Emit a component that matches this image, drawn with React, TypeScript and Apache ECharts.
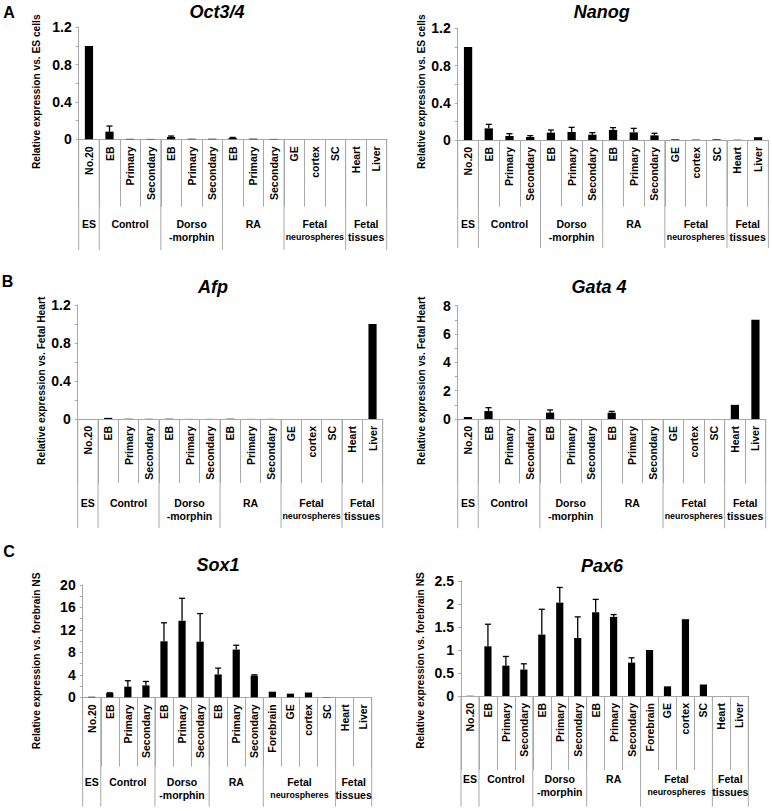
import React, { useEffect, useRef } from 'react';
import * as echarts from 'echarts';

// ---------- categories ----------
const catsAB = ['No.20', 'EB', 'Primary', 'Secondary', 'EB', 'Primary', 'Secondary', 'EB', 'Primary', 'Secondary', 'GE', 'cortex', 'SC', 'Heart', 'Liver'];
const catsC = ['No.20', 'EB', 'Primary', 'Secondary', 'EB', 'Primary', 'Secondary', 'EB', 'Primary', 'Secondary', 'Forebrain', 'GE', 'cortex', 'SC', 'Heart', 'Liver'];

// group labels and [first, last] category index of each group
const groupLabels = ['ES', 'Control', 'Dorso\n-morphin', 'RA', 'Fetal\n{n|neurospheres}', 'Fetal\ntissues'];
const groupsAB = [[0, 0], [1, 3], [4, 6], [7, 9], [10, 12], [13, 14]];
const groupsC = [[0, 0], [1, 3], [4, 6], [7, 9], [10, 13], [14, 15]];

// ---------- values (mean) and upper error ----------
const oct4Values = [1.0, 0.082, 0.005, 0.004, 0.025, 0.006, 0.006, 0.015, 0.007, 0.004, 0, 0, 0, 0, 0];
const oct4Errors = [0, 0.06, 0, 0, 0.01, 0, 0, 0.005, 0, 0, 0, 0, 0, 0, 0];

const nanogValues = [1.0, 0.125, 0.043, 0.032, 0.079, 0.086, 0.057, 0.108, 0.082, 0.05, 0.007, 0.004, 0.007, 0.003, 0.03];
const nanogErrors = [0, 0.043, 0.025, 0.015, 0.028, 0.05, 0.022, 0.025, 0.043, 0.022, 0, 0, 0, 0, 0];

const afpValues = [0, 0.012, 0.003, 0.002, 0.003, 0.001, 0.001, 0.003, 0.001, 0.001, 0, 0, 0, 0, 1.0];
const afpErrors = [0, 0, 0, 0, 0, 0, 0, 0, 0, 0, 0, 0, 0, 0, 0];

const gata4Values = [0.14, 0.56, 0, 0, 0.45, 0, 0, 0.44, 0, 0, 0, 0, 0, 1.0, 7.0];
const gata4Errors = [0, 0.24, 0, 0, 0.19, 0, 0, 0.1, 0, 0, 0, 0, 0, 0, 0];

const sox1Values = [0.1, 0.75, 1.89, 2.12, 9.97, 13.63, 9.91, 4.07, 8.5, 3.88, 1.0, 0.65, 0.85, 0.05, 0, 0];
const sox1Errors = [0, 0.05, 1.06, 0.7, 3.3, 4.0, 5.0, 1.12, 0.77, 0.12, 0, 0, 0, 0, 0, 0];

const pax6Values = [0.005, 1.08, 0.66, 0.575, 1.335, 2.03, 1.26, 1.82, 1.72, 0.725, 1.0, 0.21, 1.67, 0.25, 0, 0];
const pax6Errors = [0, 0.48, 0.2, 0.125, 0.55, 0.33, 0.46, 0.28, 0.05, 0.105, 0, 0, 0, 0, 0, 0];

// ---------- layout / style ----------
const FONT = '"Liberation Sans", Arial, Helvetica, sans-serif';
const GRAY = '#a8a8a8';

const panels = [
  { cats: catsAB, groups: groupsAB, values: oct4Values, errors: oct4Errors, title: 'Oct3/4', yName: 'Relative expression vs. ES cells',
    max: 1.2, interval: 0.4, minor: true, grid: { left: 78.7, top: 27.3, width: 308, height: 112 },
    shortLen: 67.4, longLen: 110.7, labelOff: 78, titlePos: [217, 12], namePos: [36, 91.7] },
  { cats: catsAB, groups: groupsAB, values: nanogValues, errors: nanogErrors, title: 'Nanog', yName: 'Relative expression vs. ES cells',
    max: 1.2, interval: 0.4, minor: true, grid: { left: 457.7, top: 28.3, width: 310.7, height: 111.7 },
    shortLen: 66.7, longLen: 108, labelOff: 77.5, titlePos: [601.7, 11.7], namePos: [421, 91.7] },
  { cats: catsAB, groups: groupsAB, values: afpValues, errors: afpErrors, title: 'Afp', yName: 'Relative expression vs. Fetal Heart',
    max: 1.2, interval: 0.4, minor: true, grid: { left: 77.7, top: 305, width: 305, height: 114 },
    shortLen: 64, longLen: 109, labelOff: 77.5, titlePos: [213, 286.7], namePos: [41, 380.8] },
  { cats: catsAB, groups: groupsAB, values: gata4Values, errors: gata4Errors, title: 'Gata 4', yName: 'Relative expression vs. Fetal Heart',
    max: 8, interval: 2, minor: true, grid: { left: 457.7, top: 305.7, width: 308, height: 113.3 },
    shortLen: 64.3, longLen: 109.3, labelOff: 77.5, titlePos: [599, 286.7], namePos: [421, 380.8] },
  { cats: catsC, groups: groupsC, values: sox1Values, errors: sox1Errors, title: 'Sox1', yName: 'Relative expression vs. forebrain NS',
    max: 20, interval: 4, minor: true, grid: { left: 82.7, top: 585, width: 289, height: 112.3 },
    shortLen: 69.4, longLen: 109.4, labelOff: 78, titlePos: [218, 565], namePos: [36, 660.8] },
  { cats: catsC, groups: groupsC, values: pax6Values, errors: pax6Errors, title: 'Pax6', yName: 'Relative expression vs. forebrain NS',
    max: 2.5, interval: 0.5, minor: false, grid: { left: 461, top: 581, width: 287.3, height: 115 },
    shortLen: 74, longLen: 110.7, labelOff: 76.5, titlePos: [602, 565.7], namePos: [420.5, 660.5] },
];

const letters = [
  { text: 'A', x: 9, y: 12 },
  { text: 'B', x: 7.5, y: 281 },
  { text: 'C', x: 9, y: 551.5 },
];

function buildOption() {
  const series: any[] = [];
  panels.forEach((p, i) => {
    series.push({
      type: 'bar',
      xAxisIndex: i,
      yAxisIndex: i,
      data: p.values,
      barWidth: '40%',
      itemStyle: { color: '#000' },
      silent: true,
      z: 2,
    });
    const errData = p.values
      .map((v, k) => [k, v, v + p.errors[k]])
      .filter((d, k) => p.errors[k] > 0);
    series.push({
      type: 'custom',
      xAxisIndex: i,
      yAxisIndex: i,
      data: errData,
      encode: { x: 0, y: [1, 2] },
      silent: true,
      clip: false,
      z: 3,
      renderItem: (params: any, api: any) => {
        const k = api.value(0);
        const a = api.coord([k, api.value(1)]);
        const b = api.coord([k, api.value(2)]);
        const cap = 3;
        return {
          type: 'group',
          children: [
            { type: 'line', shape: { x1: a[0], y1: a[1], x2: b[0], y2: b[1] }, style: { stroke: '#000', lineWidth: 1.3 } },
            { type: 'line', shape: { x1: b[0] - cap, y1: b[1], x2: b[0] + cap, y2: b[1] }, style: { stroke: '#000', lineWidth: 1.3 } },
          ],
        };
      },
    });
    series.push({
      type: 'custom',
      xAxisIndex: i,
      yAxisIndex: i,
      data: p.groups.map((g) => [g[0], 0, g[1]]),
      encode: { x: 0, y: 1 },
      silent: true,
      clip: false,
      z: 4,
      renderItem: (params: any, api: any) => {
        const s = api.value(0);
        const e = api.value(2);
        const band = api.size([1, 0])[0];
        const a = api.coord([s, 0]);
        const b = api.coord([e, 0]);
        const x0 = a[0] - band / 2;
        const x1 = b[0] + band / 2;
        const y0 = a[1];
        const children: any[] = [
          { type: 'line', shape: { x1: x0, y1: y0, x2: x0, y2: y0 + p.longLen }, style: { stroke: GRAY, lineWidth: 1 } },
        ];
        if (params.dataIndex === p.groups.length - 1) {
          children.push({ type: 'line', shape: { x1: x1, y1: y0, x2: x1, y2: y0 + p.longLen }, style: { stroke: GRAY, lineWidth: 1 } });
        }
        children.push({
          type: 'text',
          x: (x0 + x1) / 2,
          y: y0 + p.labelOff,
          style: {
            text: groupLabels[params.dataIndex],
            fontSize: 10.5,
            fontWeight: 'bold',
            fontFamily: FONT,
            fill: '#000',
            align: 'center',
            verticalAlign: 'top',
            lineHeight: 13,
            rich: {
              n: { fontSize: 8.8, fontWeight: 'bold', fontFamily: FONT, fill: '#000', lineHeight: 13, align: 'center' },
            },
          },
        });
        return { type: 'group', children };
      },
    });
  });

  const graphic: any[] = [];
  panels.forEach((p) => {
    graphic.push({
      type: 'text',
      x: p.titlePos[0],
      y: p.titlePos[1],
      style: { text: p.title, fontSize: 18, fontWeight: 'bold', fontStyle: 'italic', fontFamily: FONT, fill: '#000', align: 'center', verticalAlign: 'middle' },
    });
    graphic.push({
      type: 'text',
      x: p.namePos[0],
      y: p.namePos[1],
      rotation: Math.PI / 2,
      style: { text: p.yName, fontSize: 10.2, fontWeight: 'bold', fontFamily: FONT, fill: '#000', align: 'center', verticalAlign: 'middle' },
    });
  });
  letters.forEach((l) => {
    graphic.push({
      type: 'text',
      x: l.x,
      y: l.y,
      style: { text: l.text, fontSize: 16, fontWeight: 'bold', fontFamily: FONT, fill: '#000', align: 'center', verticalAlign: 'middle' },
    });
  });

  return {
    animation: false,
    backgroundColor: '#fff',
    textStyle: { fontFamily: FONT },
    grid: panels.map((p) => ({ ...p.grid, containLabel: false, outerBoundsMode: 'none' })),
    xAxis: panels.map((p, i) => ({
      type: 'category',
      gridIndex: i,
      data: p.cats,
      boundaryGap: true,
      axisLine: { show: true, lineStyle: { color: GRAY, width: 1 } },
      axisTick: { show: true, interval: 0, length: p.shortLen, lineStyle: { color: GRAY, width: 1 } },
      axisLabel: { show: true, interval: 0, rotate: 90, margin: 7, fontSize: 10.5, fontWeight: 'bold', color: '#000', fontFamily: FONT },
      splitLine: { show: false },
    })),
    yAxis: panels.map((p, i) => ({
      type: 'value',
      gridIndex: i,
      min: 0,
      max: p.max,
      interval: p.interval,
      axisLine: { show: true, lineStyle: { color: GRAY, width: 1 } },
      axisTick: { show: true, length: 3, lineStyle: { color: GRAY } },
      minorTick: { show: p.minor, splitNumber: 2, length: 3, lineStyle: { color: GRAY } },
      splitLine: { show: false },
      minorSplitLine: { show: false },
      axisLabel: { fontSize: 14, fontWeight: 'bold', color: '#000', margin: 7, fontFamily: FONT },
    })),
    series,
    graphic,
  };
}

export default function App() {
  const ref = useRef<HTMLDivElement>(null);
  useEffect(() => {
    if (!ref.current) return;
    const chart = echarts.init(ref.current, null, { renderer: 'svg' });
    chart.setOption(buildOption() as any);
    return () => chart.dispose();
  }, []);
  return <div ref={ref} style={{ position: 'absolute', left: 0, top: 0, width: 772, height: 811, background: '#fff' }} />;
}
